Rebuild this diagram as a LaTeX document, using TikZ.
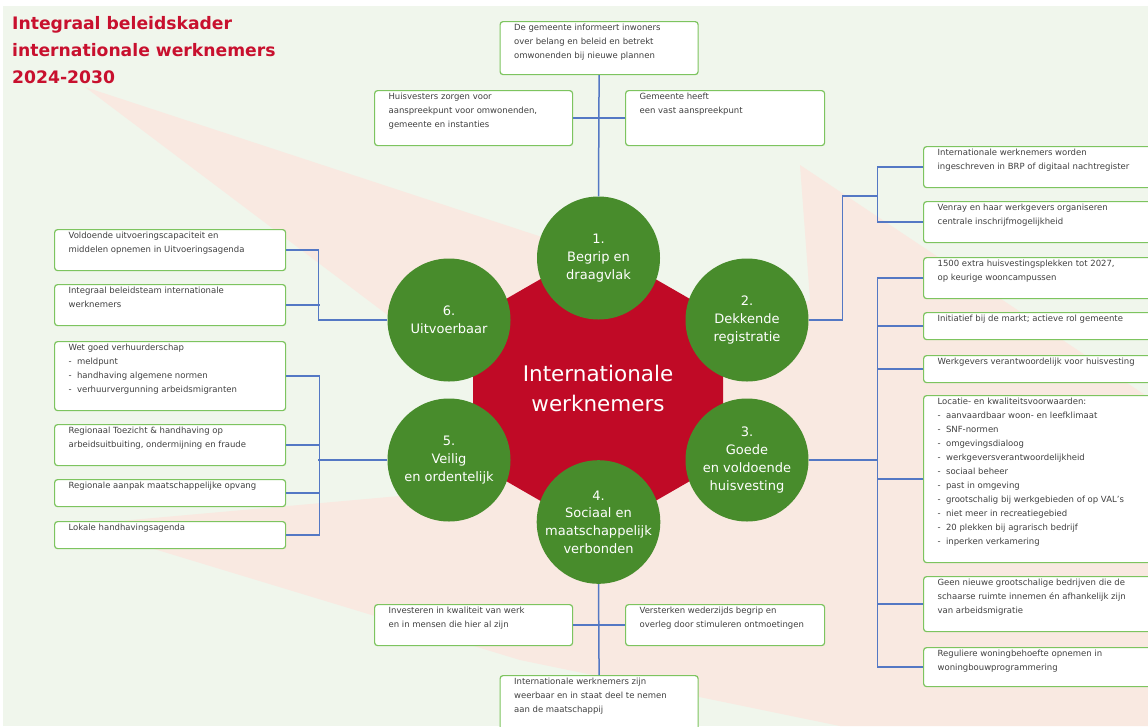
\documentclass[tikz,border=0pt]{standalone}
\usepackage{fontspec}
\setmainfont{DejaVu Sans}
\usepackage{tikz}
\usetikzlibrary{calc}

\definecolor{bggreen}{RGB}{240,246,236}
\definecolor{bgpink}{RGB}{249,233,225}
\definecolor{hubred}{RGB}{192,10,38}
\definecolor{titlered}{RGB}{200,16,46}
\definecolor{themegreen}{RGB}{72,140,44}
\definecolor{boxgreen}{RGB}{125,196,95}
\definecolor{linkblue}{RGB}{84,120,196}
\definecolor{textgray}{RGB}{64,64,64}

\newcommand{\boxtext}[3]{\parbox[t][#2pt][t]{#1pt}{\raggedright #3}}

\begin{document}
\begin{tikzpicture}[x=1pt,y=-1pt,
  item/.style={draw=boxgreen,fill=white,line width=1.2,rounded corners=3,anchor=north west,inner xsep=14,inner ysep=2.5,text=textgray,font=\fontsize{8.5}{14}\selectfont},
  theme/.style={circle,fill=themegreen,minimum size=123,inner sep=0,text=white,align=center,font=\fontsize{13}{17.7}\selectfont},
  link/.style={draw=linkblue,line width=1.5}]

\useasboundingbox (0,0) rectangle (1148,726);

\clip (0,0) rectangle (1148,726);

\fill [bggreen] (3,6) rectangle (1148,726);

\fill [bgpink] (85,87) -- (560,243) -- (598,390) -- (450,362) -- cycle;

\fill [bgpink] (800,165) -- (1148,397) -- (1148,726) -- (840,726) -- (520,660) -- (75,525) -- (467,490) -- (598,390) -- (810,300) -- cycle;

\node [anchor=north west,inner sep=0,align=left,text=titlered,font=\fontsize{17.2}{27}\selectfont\bfseries] (title) at (12,16) {Integraal beleidskader\\internationale werknemers\\2024-2030};

% boxes
\node [item] (t1) at (499.5,21) {\boxtext{170}{48}{De gemeente informeert inwoners\\over belang en beleid en betrekt\\omwonenden bij nieuwe plannen}};
\node [item] (t2) at (374,90) {\boxtext{170}{50}{Huisvesters zorgen voor\\aanspreekpunt voor omwonenden,\\gemeente en instanties}};
\node [item] (t3) at (625,90) {\boxtext{171}{50}{Gemeente heeft\\een vast aanspreekpunt}};

\node [item] (r1) at (923,146) {\boxtext{222}{36}{Internationale werknemers worden\\ingeschreven in BRP of digitaal nachtregister}};
\node [item] (r2) at (923,201) {\boxtext{222}{36}{Venray en haar werkgevers organiseren\\centrale inschrijfmogelijkheid}};
\node [item] (r3) at (923,257) {\boxtext{222}{36}{1500 extra huisvestingsplekken tot 2027,\\op keurige wooncampussen}};
\node [item] (r4) at (923,312) {\boxtext{222}{22}{Initiatief bij de markt; actieve rol gemeente}};
\node [item] (r5) at (923,355) {\boxtext{222}{22}{Werkgevers verantwoordelijk voor huisvesting}};
\node [item] (r6) at (923,395) {\boxtext{222}{162}{Locatie- en kwaliteitsvoorwaarden:\\-\ \ aanvaardbaar woon- en leefklimaat\\-\ \ SNF-normen\\-\ \ omgevingsdialoog\\-\ \ werkgeversverantwoordelijkheid\\-\ \ sociaal beheer\\-\ \ past in omgeving\\-\ \ grootschalig bij werkgebieden of op VAL's\\-\ \ niet meer in recreatiegebied\\-\ \ 20 plekken bij agrarisch bedrijf\\-\ \ inperken verkamering}};
\node [item] (r7) at (923,576) {\boxtext{222}{50}{Geen nieuwe grootschalige bedrijven die de\\schaarse ruimte innemen én afhankelijk zijn\\van arbeidsmigratie}};
\node [item] (r8) at (923,647) {\boxtext{222}{34}{Reguliere woningbehoefte opnemen in\\woningbouwprogrammering}};

\node [item] (l1) at (54,229) {\boxtext{203}{36}{Voldoende uitvoeringscapaciteit en\\middelen opnemen in Uitvoeringsagenda}};
\node [item] (l2) at (54,284) {\boxtext{203}{36}{Integraal beleidsteam internationale\\werknemers}};
\node [item] (l3) at (54,341) {\boxtext{203}{64}{Wet goed verhuurderschap\\-\ \ meldpunt\\-\ \ handhaving algemene normen\\-\ \ verhuurvergunning arbeidsmigranten}};
\node [item] (l4) at (54,424) {\boxtext{203}{36}{Regionaal Toezicht \& handhaving op\\arbeidsuitbuiting, ondermijning en fraude}};
\node [item] (l5) at (54,479) {\boxtext{203}{22}{Regionale aanpak maatschappelijke opvang}};
\node [item] (l6) at (54,521) {\boxtext{203}{22}{Lokale handhavingsagenda}};

\node [item] (b1) at (374,604) {\boxtext{170}{36}{Investeren in kwaliteit van werk\\en in mensen die hier al zijn}};
\node [item] (b2) at (625,604) {\boxtext{171}{36}{Versterken wederzijds begrip en\\overleg door stimuleren ontmoetingen}};
\node [item] (b3) at (499.5,675) {\boxtext{170}{50}{Internationale werknemers zijn\\weerbaar en in staat deel te nemen\\aan de maatschappij}};

% hub and themes
\fill [hubred] (598,246) -- (723,318) -- (723,462) -- (598,534) -- (473,462) -- (473,318) -- cycle;

\node [text=white,align=center,font=\fontsize{21.5}{30}\selectfont] (hub) at (598,388) {Internationale\\werknemers};

\node [theme] (c1) at (598.5,258) {1.\\Begrip en\\draagvlak};
\node [theme] (c2) at (747,320) {2.\\Dekkende\\registratie};
\node [theme] (c3) at (747,460) {3.\\Goede\\en voldoende\\huisvesting};
\node [theme] (c4) at (598.5,522) {4.\\Sociaal en\\maatschappelijk\\verbonden};
\node [theme] (c5) at (449,460) {5.\\Veilig\\en ordentelijk};
\node [theme] (c6) at (449,320) {6.\\Uitvoerbaar};

% links
\draw [link] (c1.north) -- (t1.south);
\draw [link] (t2.east) -- (t3.west);

\coordinate (k2) at (877.5,196);
\draw [link] (c2.east) -- ++(34,0) |- (k2);
\draw [link] (r1.west) -| (k2) |- (r2.west);

\draw [link] (c3.east) -- ++(69,0);
\draw [link] (r3.west) -- ++(-45.5,0) |- (r8.west);
\foreach \b in {r4,r5,r6,r7}
  \draw [link] (\b.west) -- ++(-45.5,0);

\draw [link] (c4.south) -- (b3.north);
\draw [link] (b1.east) -- (b2.west);

\draw [link] (c5.west) -- ++(-69,0);
\draw [link] (l3.east) -- ++(33.5,0) |- (l6.east);
\foreach \b in {l4,l5}
  \draw [link] (\b.east) -- ++(33.5,0);

\draw [link] (c6.west) -- ++(-69,0) |- (l1.east);
\draw [link] (l2.east) -- ++(33.5,0);

\end{tikzpicture}
\end{document}
